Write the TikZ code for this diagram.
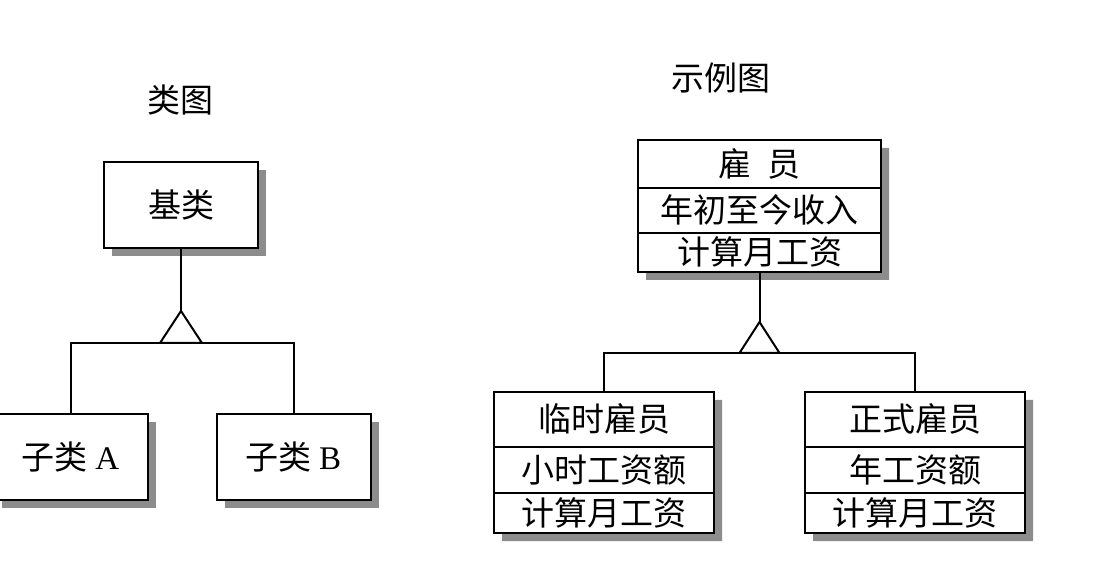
\documentclass[tikz,border=0pt]{standalone}
\usepackage{fontspec}
\setmainfont{Noto Sans CJK SC}
\newfontfamily\latinfont{Liberation Serif}
\usepackage{tikz}
\usetikzlibrary{positioning,shapes.multipart,shadows}
\definecolor{umlshadow}{HTML}{8C8C8C}
\newcommand{\rowtext}[2]{\rule[\dimexpr12.5pt-#1pt/2\relax]{0pt}{#1pt}#2}

\begin{document}
\begin{tikzpicture}[
  x=1pt,y=1pt,
  font=\fontsize{33}{36}\selectfont,
  shade/.style={drop shadow={shadow xshift=8pt,shadow yshift=-8pt,fill=umlshadow,opacity=1}},
  plain/.style={draw,line width=2pt,fill=white,inner sep=0pt,shade,
                minimum width=154pt,minimum height=86pt},
  klass/.style={draw,line width=2pt,fill=white,inner sep=0pt,shade,
                rectangle split,rectangle split parts=3,text width=#1,align=center},
  link/.style={line width=2pt},
  title/.style={inner sep=0pt}
]
  \useasboundingbox (0,0) rectangle (1113,570);

  \node[title] (ltitle) at (180,470) {类图};
  \node[title] (rtitle) at (721,492) {示例图};

  \node[plain] (base) at (181,365) {基类};
  \coordinate[below=94pt of base.south] (hubL);
  \coordinate[above=32pt of hubL] (tipL);
  \node[plain,below=70pt of hubL,xshift=-110.5pt] (subA) {子类 {\latinfont A}};
  \node[plain,below=70pt of hubL,xshift=112.5pt] (subB) {子类 {\latinfont B}};

  \draw[link] (base.south) -- (tipL);
  \draw[link] (hubL) -- ++(-21,0) -- (tipL) -- ++(21,-32) -- cycle;
  \draw[link] (subA.north) |- (hubL) -| (subB.north);

  \node[klass=243pt,anchor=north] (emp) at (759.5,431)
    {\rowtext{46}{雇\hspace{0.5em}员}\nodepart{two}\rowtext{43}{年初至今收入}\nodepart{three}\rowtext{37}{计算月工资}};
  \coordinate[below=80pt of emp.south] (hubR);
  \coordinate[above=31pt of hubR] (tipR);
  \node[klass=220pt,below=38pt of hubR,xshift=-155.5pt] (temp)
    {\rowtext{53}{临时雇员}\nodepart{two}\rowtext{44}{小时工资额}\nodepart{three}\rowtext{38}{计算月工资}};
  \node[klass=220pt,below=38pt of hubR,xshift=155.5pt] (perm)
    {\rowtext{53}{正式雇员}\nodepart{two}\rowtext{44}{年工资额}\nodepart{three}\rowtext{38}{计算月工资}};

  \draw[link] (emp.south) -- (tipR);
  \draw[link] (hubR) -- ++(-20,0) -- (tipR) -- ++(20,-31) -- cycle;
  \draw[link] (temp.north) |- (hubR) -| (perm.north);
\end{tikzpicture}
\end{document}
